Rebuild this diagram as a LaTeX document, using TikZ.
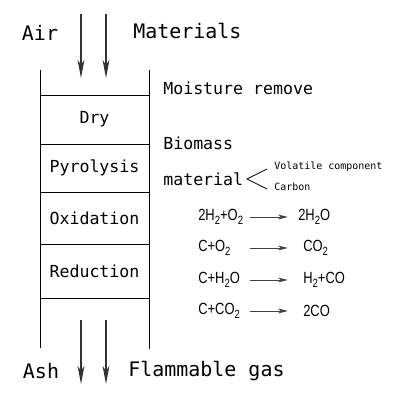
\documentclass[tikz,border=0pt]{standalone}
\usepackage{fontspec}
\setmainfont{DejaVu Sans Mono}
\newfontfamily\eqfont[FakeStretch=0.8]{Liberation Sans}
\usepackage{tikz}
\usetikzlibrary{arrows.meta, positioning, calc}

\newcommand{\lowsub}[1]{\raisebox{-0.55ex}{\fontsize{8.5}{9}\selectfont #1}}

\begin{document}
\begin{tikzpicture}[
    x=0.025cm, y=-0.025cm,
    wall/.style={line width=0.7pt},
    stage/.style={draw, line width=0.7pt, rectangle, minimum width=109*0.025cm, inner sep=0pt, font=\fontsize{11.8}{12}\selectfont},
    biglabel/.style={font=\fontsize{14.2}{15}\selectfont, inner sep=0pt},
    note/.style={font=\fontsize{11.8}{12}\selectfont, anchor=west, inner sep=0pt},
    tiny/.style={font=\fontsize{7.1}{8}\selectfont, anchor=west, inner sep=0pt},
    eq/.style={font=\eqfont\fontsize{11.5}{12}\selectfont, anchor=west, inner sep=0pt},
    flow/.style={-{Stealth[length=0.45cm, width=0.17cm, inset=0.12cm]}, line width=1.1pt, black!80},
    react/.style={-{Stealth[length=0.25cm, width=0.12cm, inset=0.07cm]}, line width=0.7pt, black!75}
]
\useasboundingbox (0,0) rectangle (400,400);

% Inputs
\node[biglabel] (air) at (40,33) {Air};
\node[biglabel, anchor=west] (mat) at (133,31) {Materials};
\coordinate (in1) at (81,14);
\coordinate (in2) at (106,14);
\coordinate (top1) at (81,78);
\coordinate (top2) at (106,78);
\draw[flow] (in1) -- (top1);
\draw[flow] (in2) -- (top2);

% Reactor
\coordinate (lwt) at (40,70);
\coordinate (lwb) at (40,348);
\coordinate (rwt) at (149,70);
\coordinate (rwb) at (149,349);
\draw[wall] (lwt) -- (lwb);
\draw[wall] (rwt) -- (rwb);
\node[stage, minimum height=49*0.025cm] (dry) at (94.5,119.5) {Dry};
\node[stage, minimum height=48*0.025cm] (pyro) at (94.5,168) {Pyrolysis};
\node[stage, minimum height=52*0.025cm] (oxid) at (94.5,218) {Oxidation};
\node[stage, minimum height=54*0.025cm] (redu) at (94.5,271) {Reduction};

% Notes
\node[note] (moist) at (163,88) {Moisture remove};
\node[note] (bio) at (163,143) {Biomass};
\node[note] (matl) at (163,179) {material};
\coordinate (apex) at (247,179);
\coordinate (btop) at (267,169);
\coordinate (bbot) at (267,189);
\draw[line width=0.6pt] (btop) -- (apex) -- (bbot);
\node[tiny] (vol) at (274,167) {Volatile component};
\node[tiny] (carb) at (274,187) {Carbon};

% Reactions
\foreach \i/\y/\lhs/\rhs/\rx in {
    1/217/{2H\lowsub{2}+O\lowsub{2}}/{2H\lowsub{2}O}/298,
    2/248/{C+O\lowsub{2}}/{CO\lowsub{2}}/303,
    3/280/{C+H\lowsub{2}O}/{H\lowsub{2}+CO}/303,
    4/311/{C+CO\lowsub{2}}/{2CO}/303} {
  \node[eq] (lhs\i) at (198,\y) {\lhs};
  \node[eq] (rhs\i) at (\rx,\y) {\rhs};
  \coordinate (ra\i) at (250,\y);
  \coordinate (rb\i) at (288,\y);
  \draw[react] (ra\i) -- (rb\i);
}

% Outputs
\node[biglabel] (ash) at (41,371) {Ash};
\node[biglabel, anchor=west] (gas) at (128,371) {Flammable gas};
\coordinate (out1) at (81,320);
\coordinate (out2) at (106,320);
\coordinate (bot1) at (81,384);
\coordinate (bot2) at (106,384);
\draw[flow] (out1) -- (bot1);
\draw[flow] (out2) -- (bot2);
\end{tikzpicture}
\end{document}
